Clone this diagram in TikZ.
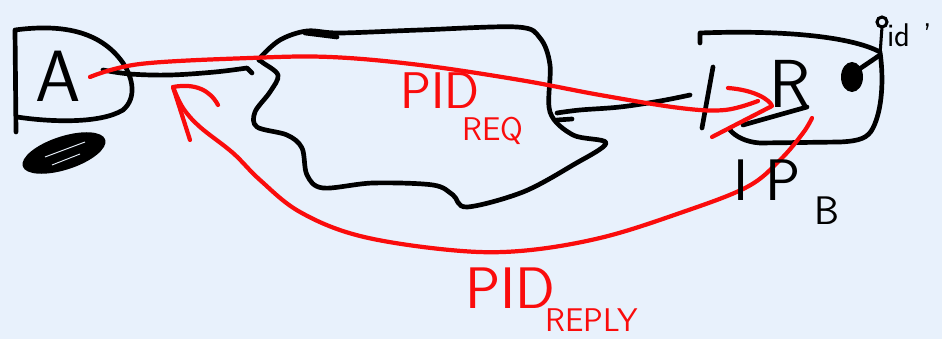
\documentclass[tikz,border=0pt]{standalone}
\usepackage{fontspec}

\definecolor{sfondo}{RGB}{232,241,252}
\definecolor{rossop}{RGB}{250,12,12}

\begin{document}
\begin{tikzpicture}[
  x=0.03cm, y=-0.03cm,
  tratto/.style={draw=black, line width=4pt, line cap=round, line join=round},
  freccia/.style={draw=rossop, line width=3.6pt, line cap=round, line join=round},
  scritta/.style={inner sep=0pt, font=\sffamily\fontsize{#1}{#1}\selectfont}
]

\useasboundingbox (0,0) rectangle (942,339);
\fill[sfondo] (0,0) rectangle (942,339);

%--------------------------------------------------------------
% Host A e macchia sotto
%--------------------------------------------------------------
\draw[tratto] (16,132) -- (15,30) .. controls (60,24) and (100,30) .. (123,63)
  .. controls (133,78) and (137,98) .. (123,110)
  .. controls (100,124) and (50,122) .. (17,117);
\fill[black, rotate around={18:(64,153)}] (64,153) ellipse [x radius=1.3cm, y radius=0.5cm];
\draw[sfondo, line width=0.8pt] (45,157) -- (85,142);
\draw[sfondo, line width=0.8pt] (52,165) -- (80,154);

%--------------------------------------------------------------
% Nuvola della rete e collegamenti neri
%--------------------------------------------------------------
\draw[tratto] plot[smooth cycle, tension=0.55] coordinates {
  (260,58) (280,40) (307,31) (340,33) (420,30) (517,27) (540,38) (550,65)
  (550,112) (573,135) (606,143) (573,165) (523,192) (467,207) (453,195)
  (433,185) (373,183) (323,188) (307,175) (302,148) (287,135) (257,127)
  (255,112) (270,92) (278,75) (262,62)};
\draw[tratto] (305,33) -- (337,37);

\draw[tratto] plot[smooth, tension=0.6] coordinates {
  (103,70) (130,74) (170,75) (215,72) (247,68)} -- (252,73);
\draw[tratto] plot[smooth, tension=0.6] coordinates {
  (557,113) (580,110) (620,107) (660,101) (690,95)};
\draw[tratto] (557,120) -- (572,119);

%--------------------------------------------------------------
% Router B
%--------------------------------------------------------------
\draw[tratto] (700,43) -- (700,33) .. controls (780,30) and (850,36) .. (880,52)
  .. controls (884,80) and (882,110) .. (873,128)
  .. controls (868,138) and (860,141) .. (840,142) -- (760,143)
  .. controls (745,142) and (735,136) .. (730,130);
\draw[tratto] (713,67) -- (702,128);
\draw[tratto] (743,125) -- (807,107);
\fill[black] (852,77) ellipse [x radius=0.33cm, y radius=0.45cm];
\draw[tratto] (855,72) -- (880,55);
\draw[black, line width=2.6pt] (882,22) circle [radius=0.15cm];
\draw[black, line width=2.6pt, line cap=round] (882,27) -- (880,55);

%--------------------------------------------------------------
% Frecce rosse: richiesta e risposta
%--------------------------------------------------------------
\coordinate (puntaReq) at (772,106);
\coordinate (puntaReply) at (173,87);

\draw[freccia] plot[smooth, tension=0.6] coordinates {
  (90,77) (140,64) (250,58) (330,57) (420,65) (520,80) (600,95) (680,108)
  (725,110) (758,101)};
\draw[freccia] (728,88) .. controls (755,90) and (770,100) .. (puntaReq) -- (712,137);

\draw[freccia] plot[smooth, tension=0.6] coordinates {
  (812,118) (803,133) (780,160) (747,187) (680,213) (600,238) (520,251)
  (450,250) (360,236) (300,212) (260,180) (233,153) (200,127) (183,108)
  (173,87)};
\draw[freccia] (190,140) -- (puntaReply) .. controls (195,83) and (210,90) .. (218,105);

%--------------------------------------------------------------
% Scritte
%--------------------------------------------------------------
\node[scritta=62] (hostA) at (58,76) {A};
\node[scritta=58] (router) at (790,84) {R};
\node[scritta=50, anchor=base west] (ipB) at (733,200) {I\kern0.3em P};
\node[scritta=34, anchor=base west] (ipSub) at (814,224) {B};
\node[scritta=28, anchor=base west] (pid) at (887,47) {id\hspace{0.4em}'};

\node[scritta=44, text=rossop, anchor=base west] (pidReq) at (400,108) {PID};
\node[scritta=28, text=rossop, anchor=base west] (reqSub) at (462,140) {REQ};
\node[scritta=50, text=rossop, anchor=base west] (pidReply) at (465,308) {PID};
\node[scritta=28, text=rossop, anchor=base west] (replySub) at (545,331) {REPLY};

\end{tikzpicture}
\end{document}
